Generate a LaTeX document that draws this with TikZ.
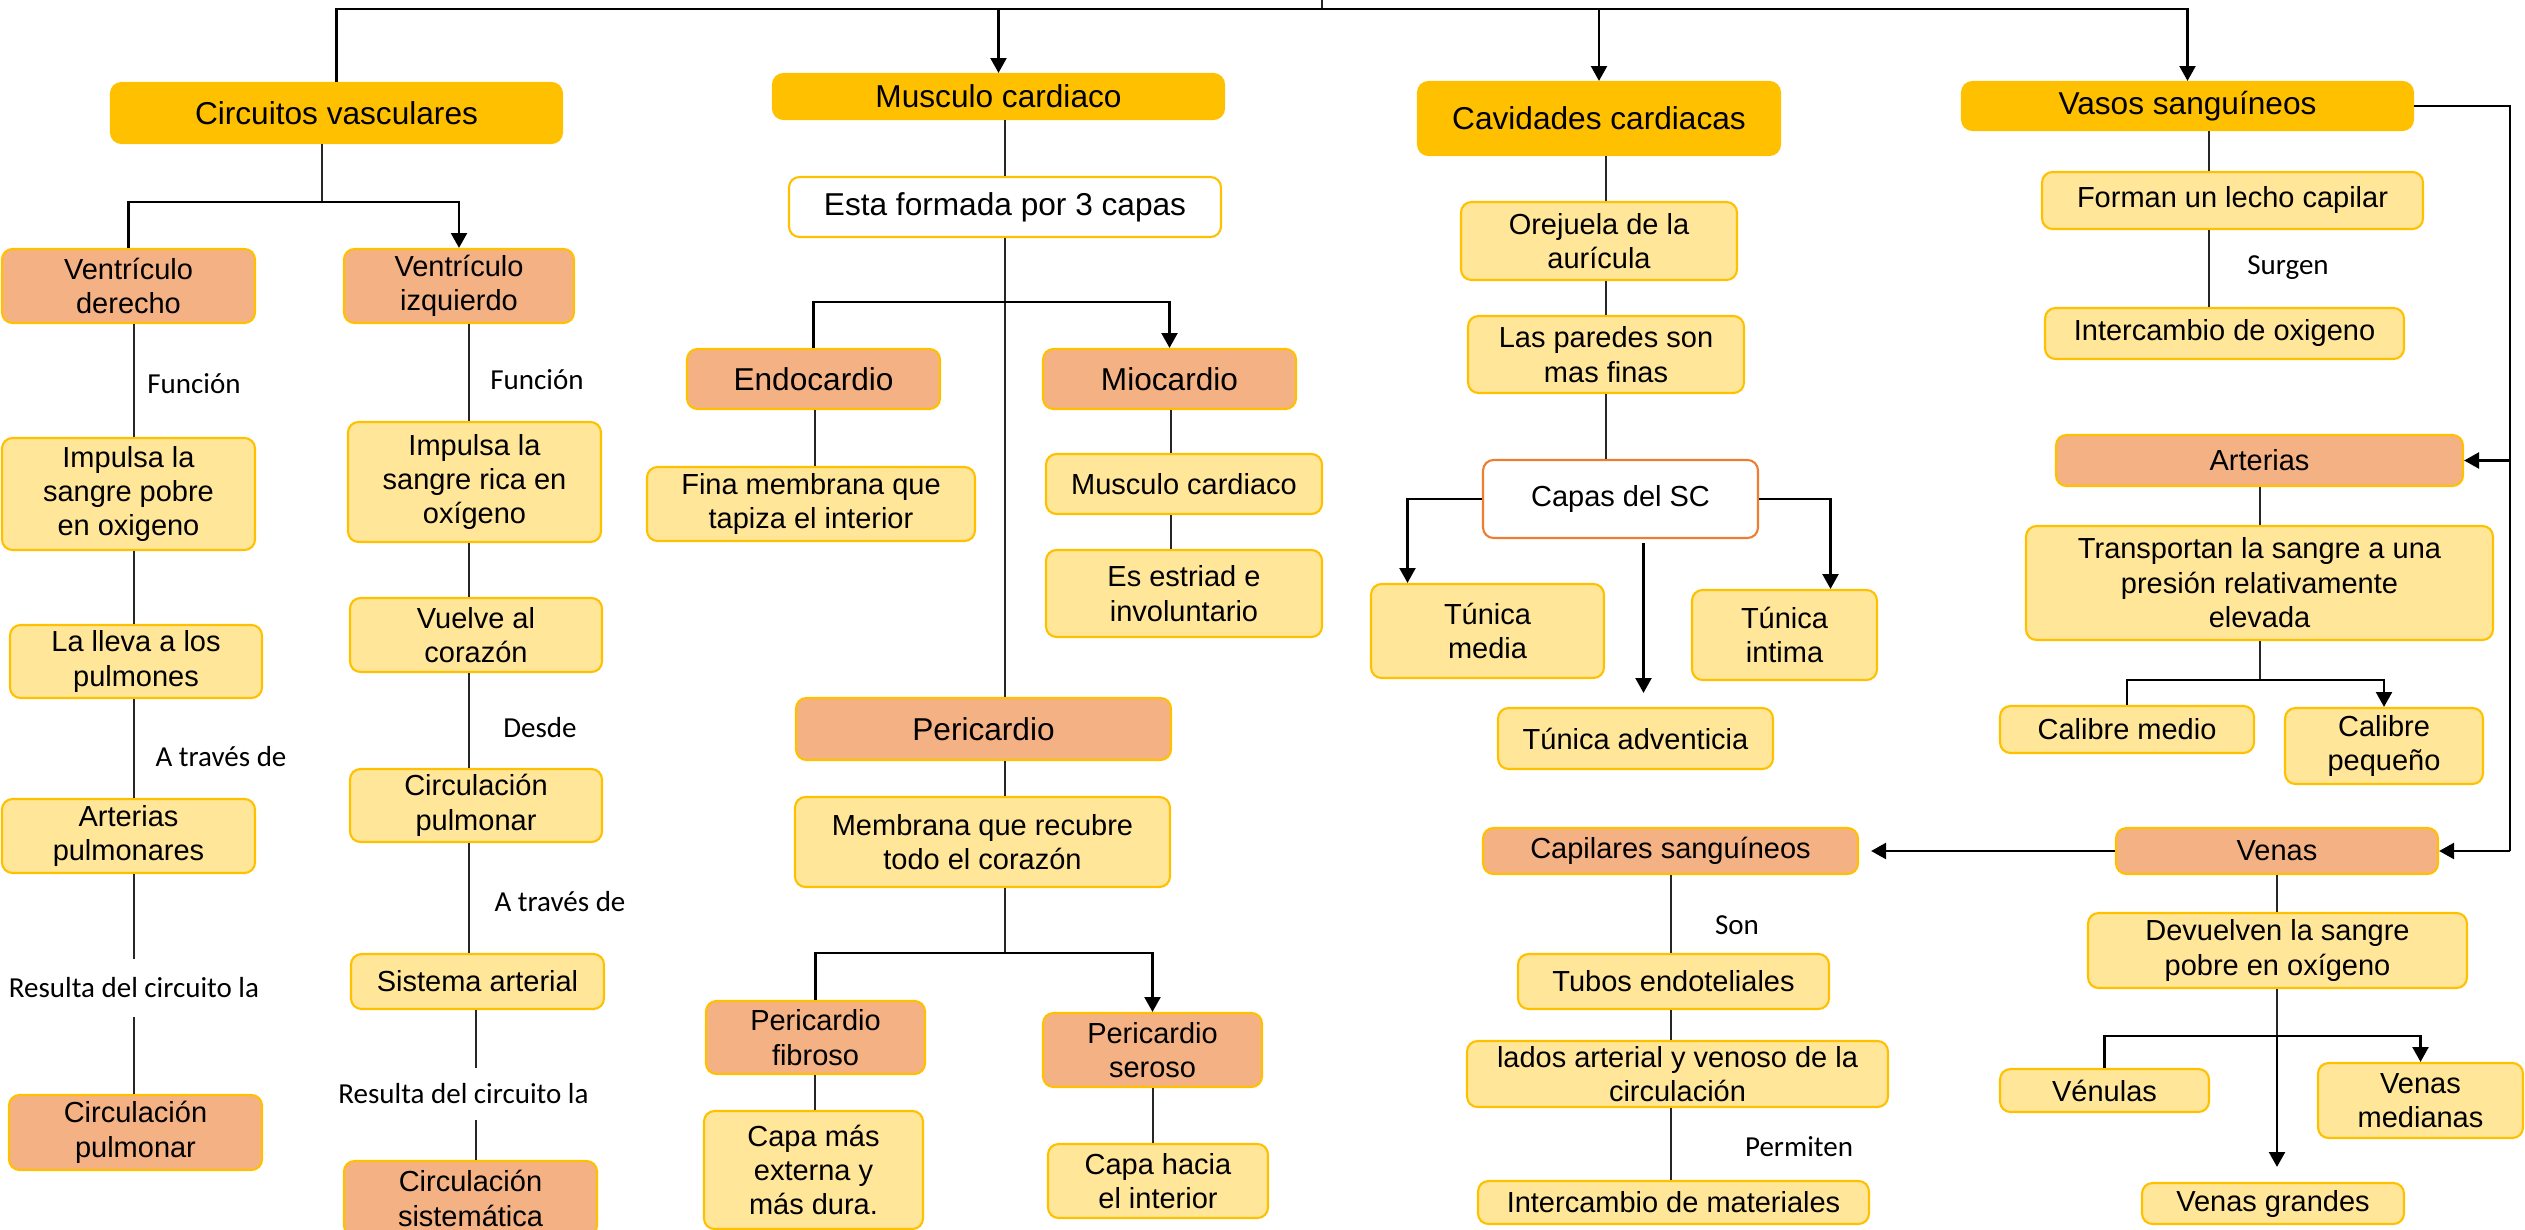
\documentclass[tikz,border=0pt]{standalone}
\usepackage{fontspec}
\setmainfont{Liberation Sans}
\newfontfamily\lblfont{Carlito}
\usetikzlibrary{arrows.meta,calc}

\definecolor{oro}{HTML}{FFC000}
\definecolor{salmon}{HTML}{F4B183}
\definecolor{crema}{HTML}{FFE699}
\definecolor{naranja}{HTML}{ED7D31}

\begin{document}
\begin{tikzpicture}[x=0.02cm, y=-0.02cm,
	caja/.style={draw=oro, line width=1.2pt, rounded corners=6pt, align=center, inner sep=0pt,
		font=\fontsize{16.5}{19.6}\selectfont},
	tam/.style n args={2}{minimum width=#1*0.02cm, minimum height=#2*0.02cm},
	grande/.style={font=\fontsize{18}{21}\selectfont},
	titulo/.style={caja, fill=oro, grande},
	sub/.style={caja, fill=salmon},
	hoja/.style={caja, fill=crema},
	blanco/.style={caja, fill=white},
	etq/.style={font=\lblfont\fontsize{16.5}{19.6}\selectfont, inner sep=0pt},
	ln/.style={line width=0.7pt, black!85},
	br/.style={line width=1.6pt},
	fl/.style={-{Triangle[length=8.5pt,width=9pt]}},
]
	\useasboundingbox (0,0) rectangle (2525,1230);
	
	% Circuitos vasculares
	\node[titulo, tam={451}{60}] (circ) at (336.5,113) {Circuitos vasculares};
	\node[sub, tam={253}{74}] (vd) at (128.5,286) {Ventrículo\\derecho};
	\node[sub, tam={230}{74}] (vi) at (459,286) {Ventrículo\\izquierdo};
	\node[hoja, tam={253}{112}] (imp1) at (128.5,494) {Impulsa la\\sangre pobre\\en oxigeno};
	\node[hoja, tam={252}{73}] (lleva) at (136,661.5) {La lleva a los\\pulmones};
	\node[hoja, tam={253}{74}] (artp) at (128.5,836) {Arterias\\pulmonares};
	\node[sub, tam={253}{75}] (cpul) at (135.5,1132.5) {Circulación\\pulmonar};
	\node[hoja, tam={253}{120}] (imp2) at (474.5,482) {Impulsa la\\sangre rica en\\oxígeno};
	\node[hoja, tam={252}{74}] (vuel) at (476,635) {Vuelve al\\corazón};
	\node[hoja, tam={252}{73}] (cpul2) at (476,805.5) {Circulación\\pulmonar};
	\node[hoja, tam={253}{55}] (sist) at (477.5,981.5) {Sistema arterial};
	\node[sub, tam={253}{75}] (csis) at (470.5,1198.5) {Circulación\\sistemática};
	
	\node[etq] (f1) at (194,384) {Función};
	\node[etq] (f2) at (537,380) {Función};
	\node[etq] (t1) at (221,757) {A través de};
	\node[etq, minimum height=58*0.02cm] (r1) at (134,988) {Resulta del circuito la};
	\node[etq] (d1) at (540,728) {Desde};
	\node[etq] (t2) at (560,902) {A través de};
	\node[etq, minimum height=52*0.02cm] (r2) at (463.5,1094) {Resulta del circuito la};
	
	% Musculo cardiaco
	\node[titulo, tam={451}{45}] (musc) at (998.5,96.5) {Musculo cardiaco};
	\node[blanco, grande, tam={432}{60}] (esta) at (1005,207) {Esta formada por 3 capas};
	\node[sub, grande, tam={253}{60}] (endo) at (813.5,379) {Endocardio};
	\node[sub, grande, tam={253}{60}] (mio) at (1169.5,379) {Miocardio};
	\node[hoja, tam={328}{74}] (fina) at (811,504) {Fina membrana que\\tapiza el interior};
	\node[hoja, tam={276}{60}] (mcard) at (1184,484) {Musculo cardiaco};
	\node[hoja, tam={276}{87}] (estr) at (1184,593.5) {Es estriad e\\involuntario};
	\node[sub, grande, tam={375}{62}] (peri) at (983.5,729) {Pericardio};
	\node[hoja, tam={375}{90}] (memb) at (982.5,842) {Membrana que recubre\\todo el corazón};
	\node[sub, tam={219}{73}] (pfib) at (815.5,1037.5) {Pericardio\\fibroso};
	\node[sub, tam={219}{74}] (pser) at (1152.5,1050) {Pericardio\\seroso};
	\node[hoja, tam={219}{118}] (capam) at (813.5,1170) {Capa más\\externa y\\más dura.};
	\node[hoja, tam={220}{74}] (capah) at (1158,1181) {Capa hacia\\el interior};
	
	% Cavidades cardiacas
	\node[titulo, tam={362}{73}] (cavi) at (1599,118.5) {Cavidades cardiacas};
	\node[hoja, tam={276}{78}] (orej) at (1599,241) {Orejuela de la\\aurícula};
	\node[hoja, tam={276}{77}] (pared) at (1606,354.5) {Las paredes son\\mas finas};
	\node[blanco, draw=naranja, tam={275}{78}] (capas) at (1620.5,499) {Capas del SC};
	\node[hoja, tam={233}{94}] (tmed) at (1487.5,631) {Túnica\\media};
	\node[hoja, tam={185}{90}] (tint) at (1784.5,635) {Túnica\\intima};
	\node[hoja, tam={275}{61}] (tadv) at (1635.5,738.5) {Túnica adventicia};
	\node[sub, tam={375}{46}] (capi) at (1670.5,851) {Capilares sanguíneos};
	\node[hoja, tam={311}{55}] (tubos) at (1673.5,981.5) {Tubos endoteliales};
	\node[hoja, tam={421}{66}] (lados) at (1677.5,1074) {lados arterial y venoso de la\\circulación};
	\node[hoja, tam={391}{43}] (inter) at (1673.5,1202.5) {Intercambio de materiales};
	
	\node[etq] (son) at (1737,925) {Son};
	\node[etq] (perm) at (1799,1147) {Permiten};
	
	% Vasos sanguineos
	\node[titulo, tam={451}{48}] (vasos) at (2187.5,106) {Vasos sanguíneos};
	\node[hoja, tam={381}{57}] (forman) at (2232.5,200.5) {Forman un lecho capilar};
	\node[hoja, tam={359}{51}] (intox) at (2224.5,333.5) {Intercambio de oxigeno};
	\node[sub, tam={407}{51}] (art) at (2259.5,460.5) {Arterias};
	\node[hoja, tam={467}{114}] (trans) at (2259.5,583) {Transportan la sangre a una\\presión relativamente\\elevada};
	\node[hoja, tam={254}{47}] (calm) at (2127,729.5) {Calibre medio};
	\node[hoja, tam={198}{76}] (calp) at (2384,746) {Calibre\\pequeño};
	\node[sub, tam={322}{46}] (venas) at (2277,851) {Venas};
	\node[hoja, tam={379}{75}] (devu) at (2277.5,950.5) {Devuelven la sangre\\pobre en oxígeno};
	\node[hoja, tam={209}{43}] (venu) at (2104.5,1090.5) {Vénulas};
	\node[hoja, tam={205}{75}] (vmed) at (2420.5,1100.5) {Venas\\medianas};
	\node[hoja, tam={262}{41}] (vgra) at (2273,1203.5) {Venas grandes};
	
	\node[etq] (surg) at (2288,268) {Surgen};
	
	% columnas
	\coordinate (colA) at (134,0);
	\coordinate (colB) at (469,0);
	\coordinate (colB2) at (476,0);
	\coordinate (colC) at (1005,0);
	\coordinate (colD) at (815,0);
	\coordinate (colE) at (1171,0);
	\coordinate (colF) at (1153,0);
	\coordinate (colG) at (1606,0);
	\coordinate (colH) at (1671,0);
	\coordinate (colI) at (2209,0);
	\coordinate (colJ) at (2260,0);
	\coordinate (colK) at (2277,0);
	
	% raiz
	\coordinate (raiz) at (1322,-5);
	\coordinate (top) at (1322,9);
	\draw[ln] (raiz) -- (top);
	\draw[br] (top) -| (circ.north);
	\draw[br,fl] (top) -| (musc.north);
	\draw[br,fl] (top) -| (cavi.north);
	\draw[br,fl] (top) -| (vasos.north);
	
	\coordinate (j1) at (322,202);
	\draw[ln] (circ.south -| j1) -- (j1);
	\draw[br] (j1) -| (vd.north);
	\draw[br,fl] (j1) -| (vi.north);
	\draw[ln] (vd.south -| colA) -- (imp1.north -| colA);
	\draw[ln] (imp1.south -| colA) -- (lleva.north -| colA);
	\draw[ln] (lleva.south -| colA) -- (artp.north -| colA);
	\draw[ln] (artp.south -| colA) -- (r1.north -| colA);
	\draw[ln] (r1.south -| colA) -- (cpul.north -| colA);
	\draw[ln] (vi.south -| colB) -- (imp2.north -| colB);
	\draw[ln] (imp2.south -| colB) -- (vuel.north -| colB);
	\draw[ln] (vuel.south -| colB) -- (cpul2.north -| colB);
	\draw[ln] (cpul2.south -| colB) -- (sist.north -| colB);
	\draw[ln] (sist.south -| colB2) -- (r2.north -| colB2);
	\draw[ln] (r2.south -| colB2) -- (csis.north -| colB2);
	
	\draw[ln] (musc.south -| colC) -- (esta.north -| colC);
	\draw[ln] (esta.south -| colC) -- (peri.north -| colC);
	\coordinate (j2) at (1005,302);
	\draw[br] (j2) -| (endo.north);
	\draw[br,fl] (j2) -| (mio.north);
	\draw[ln] (endo.south -| colD) -- (fina.north -| colD);
	\draw[ln] (mio.south -| colE) -- (mcard.north -| colE);
	\draw[ln] (mcard.south -| colE) -- (estr.north -| colE);
	\draw[ln] (peri.south -| colC) -- (memb.north -| colC);
	\coordinate (j3) at (1005,953);
	\draw[ln] (memb.south -| colC) -- (j3);
	\draw[br] (j3) -| (pfib.north);
	\draw[br,fl] (j3) -| (pser.north);
	\draw[ln] (pfib.south -| colD) -- (capam.north -| colD);
	\draw[ln] (pser.south -| colF) -- (capah.north -| colF);
	
	\draw[ln] (cavi.south -| colG) -- (orej.north -| colG);
	\draw[ln] (orej.south -| colG) -- (pared.north -| colG);
	\draw[ln] (pared.south -| colG) -- (capas.north -| colG);
	\draw[br,fl] (capas.west) -| ($(tmed.north)+(-80,0)$);
	\draw[br,fl] (capas.east) -| ($(tint.north)+(46,0)$);
	\draw[br,fl] ($(capas.south)+(23,4)$) -- ($(tadv.north)+(8,-14)$);
	\draw[ln] (capi.south -| colH) -- (tubos.north -| colH);
	\draw[ln] (tubos.south -| colH) -- (lados.north -| colH);
	\draw[ln] (lados.south -| colH) -- (inter.north -| colH);
	\draw[br,fl] (venas.west) -- ($(capi.east)+(12,0)$);
	
	\draw[ln] (vasos.south -| colI) -- (forman.north -| colI);
	\draw[ln] (forman.south -| colI) -- (intox.north -| colI);
	\coordinate (der) at (2510,851);
	\draw[br] (vasos.east) -| (der);
	\draw[br,fl] (art.east -| der) -- (art.east);
	\draw[br,fl] (der) -- (venas.east);
	\draw[ln] (art.south -| colJ) -- (trans.north -| colJ);
	\coordinate (j4) at (2260,680);
	\draw[ln] (trans.south -| colJ) -- (j4);
	\draw[br] (j4) -| (calm.north);
	\draw[br,fl] (j4) -| (calp.north);
	\draw[ln] (venas.south -| colK) -- (devu.north -| colK);
	\coordinate (j5) at (2277,1036);
	\draw[ln] (devu.south -| colK) -- (j5);
	\draw[br] (j5) -| (venu.north);
	\draw[br,fl] (j5) -| (vmed.north);
	\draw[br,fl] (j5) -- ($(vgra.north -| j5)+(0,-15)$);
\end{tikzpicture}
\end{document}
